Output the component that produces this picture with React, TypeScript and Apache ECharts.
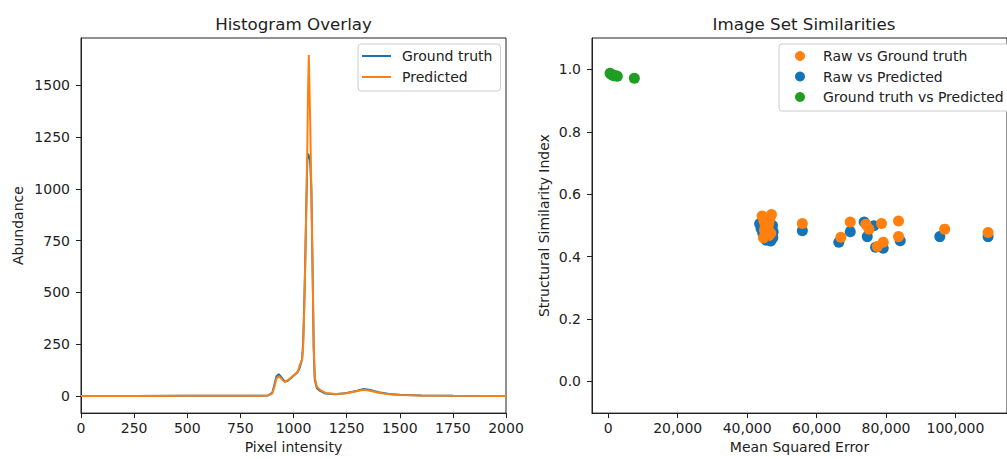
import React, { useEffect, useRef } from "react";
import * as echarts from "echarts";

const FONT = "DejaVu Sans";
const INK = "#222222";
const BLUE = "#1673b6";
const ORANGE = "#ff800e";
const GREEN = "#1f9e22";

// Histogram overlay (left panel)
const intensity = [0, 250, 500, 750, 850, 880, 900, 910, 920, 930, 940, 950, 960, 970, 980, 990, 1000, 1010, 1020, 1030, 1040, 1045, 1050, 1055, 1060, 1065, 1068, 1072, 1078, 1084, 1090, 1095, 1100, 1110, 1125, 1150, 1200, 1250, 1300, 1330, 1360, 1400, 1450, 1500, 1600, 1750, 2000];
const groundTruth = [0, 0, 1, 2, 2, 3, 15, 55, 95, 105, 95, 80, 70, 72, 80, 88, 98, 106, 116, 140, 175, 250, 420, 640, 900, 1130, 1170, 1160, 1140, 1000, 600, 230, 80, 38, 25, 12, 9, 15, 26, 34, 29, 18, 10, 6, 3, 1, 0];
const predicted = [0, 0, 1, 2, 2, 3, 12, 45, 85, 95, 88, 75, 68, 75, 82, 90, 100, 108, 118, 150, 175, 230, 400, 620, 900, 1200, 1450, 1645, 1350, 1000, 600, 250, 90, 45, 30, 15, 10, 14, 24, 30, 26, 16, 9, 5, 3, 1, 0];
const histXTickStep = 250;
const histYTicks = [0, 250, 500, 750, 1000, 1250, 1500];

// Image set similarities (right panel)
const rawVsGtMse = [44300, 47000, 44800, 46500, 45200, 46200, 45000, 46000, 45400, 46300, 44700, 46800, 45800, 55900, 67000, 69700, 74200, 75100, 78700, 77500, 79200, 83600, 83600, 96900, 109400];
const rawVsGtSsim = [0.53, 0.535, 0.515, 0.52, 0.5, 0.505, 0.485, 0.49, 0.47, 0.468, 0.46, 0.475, 0.515, 0.506, 0.462, 0.511, 0.504, 0.488, 0.506, 0.432, 0.446, 0.514, 0.464, 0.488, 0.477];
const rawVsPredMse = [43600, 44000, 44500, 45000, 45500, 46000, 46800, 47400, 47500, 47300, 46000, 45200, 55900, 66400, 69700, 73700, 76500, 74600, 77000, 79200, 84100, 95500, 109400];
const rawVsPredSsim = [0.505, 0.49, 0.475, 0.46, 0.452, 0.455, 0.45, 0.46, 0.48, 0.5, 0.47, 0.49, 0.483, 0.446, 0.48, 0.511, 0.499, 0.464, 0.43, 0.427, 0.451, 0.464, 0.464];
const gtVsPredMse = [500, 800, 1200, 1600, 2200, 2600, 7500];
const gtVsPredSsim = [0.988, 0.985, 0.982, 0.98, 0.98, 0.978, 0.972];
const mseTicks = [0, 20000, 40000, 60000, 80000, 100000];
const ssimTicks = [0, 0.2, 0.4, 0.6, 0.8, 1.0];

const zip = (xs: number[], ys: number[]) => xs.map((x, i) => [x, ys[i]]);

const txt = { fontFamily: FONT, fontSize: 14, color: INK };

function axisBase() {
  return {
    axisLine: { show: true, onZero: false, lineStyle: { color: INK, width: 1 } },
    axisTick: { show: true, inside: false, length: 5, lineStyle: { color: INK, width: 1 } },
    splitLine: { show: false },
    nameTextStyle: { ...txt },
  };
}

export default function App() {
  const ref = useRef<HTMLDivElement>(null);
  useEffect(() => {
    const chart = echarts.init(ref.current!, null, { renderer: "svg" });
    const option: any = {
      animation: false,
      backgroundColor: "#ffffff",
      title: [
        { text: "Histogram Overlay", left: 293.5, top: 15, textAlign: "center", padding: 0, textStyle: { fontFamily: FONT, fontSize: 16.7, fontWeight: "normal", color: INK } },
        { text: "Image Set Similarities", left: 804, top: 15, textAlign: "center", padding: 0, textStyle: { fontFamily: FONT, fontSize: 16.7, fontWeight: "normal", color: INK } },
      ],
      legend: [
        {
          data: ["Ground truth", "Predicted"],
          orient: "vertical",
          left: 358,
          top: 44,
          icon: "rect",
          itemWidth: 29,
          itemHeight: 2,
          itemGap: 7,
          padding: [5, 8, 7, 4],
          backgroundColor: "#ffffff",
          borderColor: "#cccccc",
          borderWidth: 1,
          borderRadius: 3,
          textStyle: { ...txt, lineHeight: 14, padding: [0, 0, 0, 6] },
        },
        {
          data: ["Raw vs Ground truth", "Raw vs Predicted", "Ground truth vs Predicted"],
          orient: "vertical",
          left: 779,
          top: 44,
          icon: "circle",
          itemWidth: 10,
          itemHeight: 10,
          itemGap: 6.5,
          padding: [5, 8, 7, 16],
          backgroundColor: "#ffffff",
          borderColor: "#cccccc",
          borderWidth: 1,
          borderRadius: 3,
          textStyle: { ...txt, lineHeight: 14, padding: [0, 0, 0, 13] },
        },
      ],
      grid: [
        { left: 81, top: 38, width: 425, height: 380, show: true, borderColor: INK, borderWidth: 1, backgroundColor: "transparent" },
        { left: 592, top: 38, width: 425, height: 380, show: true, borderColor: INK, borderWidth: 1, backgroundColor: "transparent" },
      ],
      xAxis: [
        {
          ...axisBase(),
          type: "value",
          gridIndex: 0,
          min: 0,
          max: 2000,
          interval: histXTickStep,
          name: "Pixel intensity",
          nameLocation: "middle",
          nameGap: 26,
          axisLabel: { ...txt, margin: 8, showMinLabel: true, showMaxLabel: true, formatter: (v: number) => String(v) },
        },
        {
          ...axisBase(),
          type: "value",
          gridIndex: 1,
          min: -4690,
          max: 114850,
          name: "Mean Squared Error",
          nameLocation: "middle",
          nameGap: 26,
          axisTick: { show: true, inside: false, length: 5, lineStyle: { color: INK, width: 1 }, customValues: mseTicks },
          axisLabel: { ...txt, margin: 8, customValues: mseTicks, formatter: (v: number) => v.toLocaleString("en-US") },
        },
      ],
      yAxis: [
        {
          ...axisBase(),
          type: "value",
          gridIndex: 0,
          min: -82.25,
          max: 1727.25,
          name: "Abundance",
          nameLocation: "middle",
          nameGap: 56,
          axisTick: { show: true, inside: false, length: 5, lineStyle: { color: INK, width: 1 }, customValues: histYTicks },
          axisLabel: { ...txt, margin: 11, customValues: histYTicks, formatter: (v: number) => String(v) },
        },
        {
          ...axisBase(),
          type: "value",
          gridIndex: 1,
          min: -0.102,
          max: 1.101,
          name: "Structural Similarity Index",
          nameLocation: "middle",
          nameGap: 41,
          axisTick: { show: true, inside: false, length: 5, lineStyle: { color: INK, width: 1 }, customValues: ssimTicks },
          axisLabel: { ...txt, margin: 11, customValues: ssimTicks, formatter: (v: number) => v.toFixed(1) },
        },
      ],
      series: [
        {
          type: "line",
          name: "Ground truth",
          xAxisIndex: 0,
          yAxisIndex: 0,
          data: zip(intensity, groundTruth),
          symbol: "none",
          lineStyle: { color: BLUE, width: 2 },
          itemStyle: { color: BLUE },
        },
        {
          type: "line",
          name: "Predicted",
          xAxisIndex: 0,
          yAxisIndex: 0,
          data: zip(intensity, predicted),
          symbol: "none",
          lineStyle: { color: ORANGE, width: 2 },
          itemStyle: { color: ORANGE },
        },
        {
          type: "scatter",
          name: "Raw vs Predicted",
          xAxisIndex: 1,
          yAxisIndex: 1,
          data: zip(rawVsPredMse, rawVsPredSsim),
          symbolSize: 11,
          itemStyle: { color: BLUE, opacity: 1 },
        },
        {
          type: "scatter",
          name: "Raw vs Ground truth",
          xAxisIndex: 1,
          yAxisIndex: 1,
          data: zip(rawVsGtMse, rawVsGtSsim),
          symbolSize: 11,
          itemStyle: { color: ORANGE, opacity: 1 },
        },
        {
          type: "scatter",
          name: "Ground truth vs Predicted",
          xAxisIndex: 1,
          yAxisIndex: 1,
          data: zip(gtVsPredMse, gtVsPredSsim),
          symbolSize: 11,
          itemStyle: { color: GREEN, opacity: 1 },
        },
      ],
    };
    chart.setOption(option);
    return () => chart.dispose();
  }, []);
  return (
    <div
      ref={ref}
      style={{ position: "fixed", left: 0, top: 0, width: 1007, height: 459, background: "#ffffff" }}
    />
  );
}
